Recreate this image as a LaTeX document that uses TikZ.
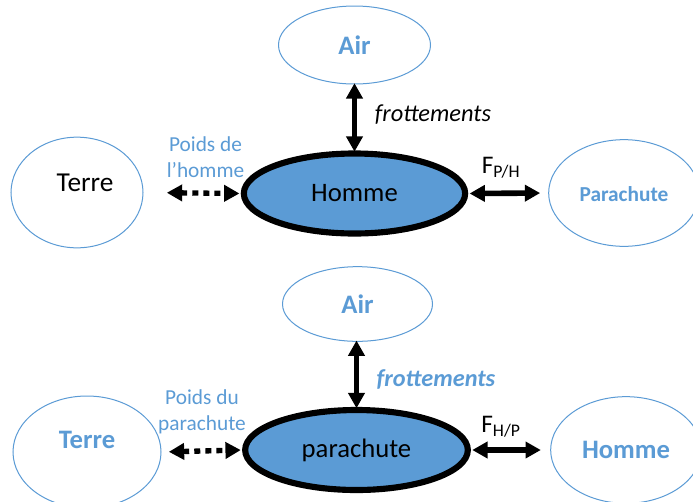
\documentclass[tikz,border=0pt]{standalone}
\usepackage{fontspec}
\setmainfont{Carlito}
\usetikzlibrary{shapes.geometric,arrows.meta}
\definecolor{blu}{HTML}{5B9BD5}
\definecolor{fillb}{HTML}{5B9BD5}
\tikzset{
  x=0.75pt,y=-0.75pt,
  oval/.style={ellipse,draw=blu,line width=0.75pt,inner sep=0pt,fill=white},
  core/.style={ellipse,draw=black,line width=4.6pt,fill=fillb,inner sep=0pt,font=\fontsize{20}{20}\selectfont},
  bi/.style={line width=4.2pt,{Triangle[width=12pt,length=11.5pt]}-{Triangle[width=12pt,length=11.5pt]}},
  bidash/.style={line width=4pt,{Triangle[width=12pt,length=11.5pt]}-{Triangle[width=12pt,length=11.5pt]},dash pattern=on 4.5pt off 3.8pt},
  bluebold/.style={text=blu,font=\bfseries\fontsize{20}{20}\selectfont},
  airtext/.style={text=blu,font=\bfseries\fontsize{20}{20}\selectfont},
  lab/.style={text=blu,font=\fontsize{16}{19.5}\selectfont,align=center},
  ital/.style={font=\itshape\fontsize{18.3}{18.3}\selectfont},
  forcet/.style={font=\fontsize{19}{19}\selectfont},
}
\begin{document}
\begin{tikzpicture}
\useasboundingbox (0,0) rectangle (693,501);
\clip (0,0) rectangle (693,501);
% upper
\node[oval,minimum width=114pt,minimum height=58.5pt,airtext] (air1) at (354.5,45) {Air};
\node[oval,minimum width=99pt,minimum height=83pt] (terre1) at (77,192.5) {};
\node[font=\fontsize{20.5}{20.5}\selectfont] (terre1t) at (85,183) {Terre};
\node[core,minimum width=166pt,minimum height=60pt] (homme1) at (354.5,193.5) {Homme};
\node[oval,minimum width=113pt,minimum height=80pt] (para1) at (624,193) {};
\node[text=blu,font=\bfseries\fontsize{16}{16}\selectfont] (para1t) at (624,194) {Parachute};
\draw[bi,shorten <=-1pt,shorten >=-1pt] (air1.south) -- (homme1.north);
\draw[bidash,shorten <=17.5pt,shorten >=1pt] (terre1.east) -- (homme1.west);
\draw[bi,shorten <=1pt,shorten >=6pt] (homme1.east) -- (para1.west);
\node[ital] (fr1) at (433,115) {frottements};
\node[lab] (pd1) at (205.5,157.5) {Poids de\\l’homme};
\node[forcet] (fp1) at (501,167.5) {F\textsubscript{P/H}};
% lower
\node[oval,minimum width=112.5pt,minimum height=56pt,airtext] (air2) at (357.5,304) {Air};
\node[oval,minimum width=111pt,minimum height=84pt] (terre2) at (87,452) {};
\node[bluebold] (terre2t) at (87,440) {Terre};
\node[core,minimum width=167pt,minimum height=60pt] (para2) at (356.5,450) {parachute};
\node[oval,minimum width=113pt,minimum height=80pt] (homme2) at (626,450) {};
\node[bluebold] (homme2t) at (626,450) {Homme};
\draw[bi,shorten <=-1pt,shorten >=-1pt] (air2.south -| para2.north) -- (para2.north);
\draw[bidash,shorten <=5.5pt,shorten >=1pt] (terre2.east) -- (para2.west);
\draw[bi,shorten <=1pt,shorten >=7pt] (para2.east) -- (homme2.west);
\node[ital,font=\bfseries\itshape\fontsize{18.2}{18.2}\selectfont,text=blu] (fr2) at (436,379.5) {frottements};
\node[lab] (pd2) at (202,411.5) {Poids du\\parachute};
\node[forcet] (fp2) at (501,426.5) {F\textsubscript{H/P}};
\end{tikzpicture}
\end{document}
